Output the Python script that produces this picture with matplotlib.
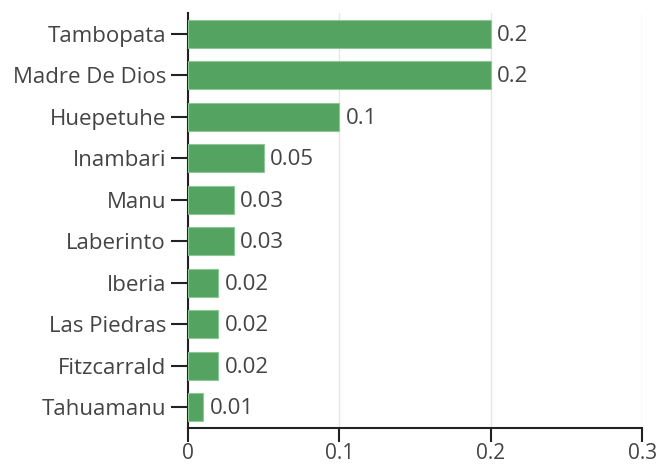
import matplotlib
matplotlib.use("Agg")
import matplotlib.pyplot as plt

districts = ["Tambopata", "Madre De Dios", "Huepetuhe", "Inambari", "Manu",
             "Laberinto", "Iberia", "Las Piedras", "Fitzcarrald", "Tahuamanu"]
values = [0.2, 0.2, 0.1, 0.05, 0.03, 0.03, 0.02, 0.02, 0.02, 0.01]
labels = ["0.2", "0.2", "0.1", "0.05", "0.03", "0.03", "0.02", "0.02", "0.02", "0.01"]
xticks = [0, 0.1, 0.2, 0.3]
xticklabels = ["0", "0.1", "0.2", "0.3"]

plt.rcParams['font.family'] = ['Open Sans', 'DejaVu Sans']
txt = '#444444'

fig = plt.figure(figsize=(6.6, 4.67), dpi=100)
ax = fig.add_axes([0.285, 0.0835, 0.688, 0.8885])

pos = list(range(len(districts)))
ax.barh(pos, values, height=0.67, color='#55a361', edgecolor='#8cc897', linewidth=0.8, zorder=3)
for p, v, l in zip(pos, values, labels):
    ax.annotate(l, (v, p), xytext=(4.5, -1), textcoords='offset points',
                va='center', ha='left', fontsize=16, color=txt, zorder=4)

ax.set_ylim(len(districts) - 0.5, -0.5)
ax.set_xlim(0, 0.3)
ax.set_yticks(pos)
ax.set_yticklabels(districts)
ax.set_xticks(xticks)
ax.set_xticklabels(xticklabels)
ax.tick_params(axis='y', labelsize=16, colors='#222222', labelcolor=txt, length=12, width=1.5, pad=4)
ax.tick_params(axis='x', labelsize=15, colors='#222222', labelcolor=txt, length=10, width=1.5, pad=1)
ax.grid(axis='x', color='#e6e6e6', linewidth=1, zorder=0)
for s in ['top', 'right']:
    ax.spines[s].set_visible(False)
for s in ['left', 'bottom']:
    ax.spines[s].set_color('#222222')
    ax.spines[s].set_linewidth(1.5)

fig.savefig("out.png", dpi=100)
